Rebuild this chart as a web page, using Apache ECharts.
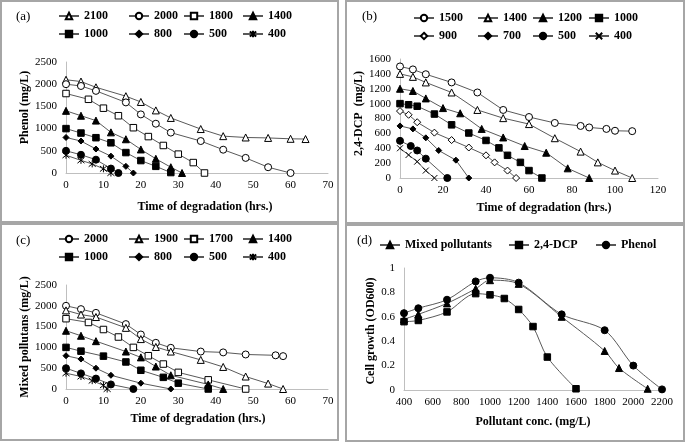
<!DOCTYPE html>
<html><head><meta charset="utf-8">
<script src="https://cdn.jsdelivr.net/npm/echarts@6/dist/echarts.min.js"></script>
<style>html,body{margin:0;padding:0;background:#fff}#c{width:685px;height:444px}</style>
</head><body><div id="c"></div>
<script>
const FONT = 'Liberation Serif';

// ---------- (a) Phenol: [time (hrs), concentration (mg/L)] ----------
const a2100 = [[0,2100],[4,2060],[8,1930],[16,1730],[20,1600],[24,1410],[28,1240],[36,990],[42,830],[48,800],[54,790],[60,770],[64,765]];
const a2000 = [[0,2000],[4,1960],[8,1850],[16,1590],[20,1320],[24,1110],[28,910],[36,720],[42,525],[48,340],[54,130],[60,0]];
const a1800 = [[0,1790],[6,1660],[10,1460],[14,1290],[18,1020],[22,820],[26,620],[30,425],[34,235],[37,0]];
const a1400 = [[0,1400],[4,1290],[8,1180],[12,915],[16,760],[20,530],[24,320],[28,130],[31,0]];
const a1000 = [[0,1000],[4,900],[8,795],[12,680],[16,460],[20,280],[24,150],[28,10]];
const a800  = [[0,800],[4,720],[8,540],[12,380],[16,150],[18,0]];
const a500  = [[0,500],[4,410],[8,300],[12,100],[14,0]];
const a400  = [[0,400],[4,285],[7,205],[10,95],[12,0]];

// ---------- (b) 2,4-DCP ----------
const b1500 = [[0,1500],[6,1460],[12,1395],[24,1285],[36,1150],[48,915],[60,820],[72,740],[84,700],[88,680],[96,660],[100,635],[108,630]];
const b1400 = [[0,1400],[6,1360],[12,1285],[24,1150],[36,915],[48,805],[60,725],[72,535],[84,355],[92,210],[100,100],[108,0]];
const b1200 = [[0,1200],[6,1170],[12,1070],[20,940],[28,870],[38,660],[48,545],[58,430],[68,340],[78,130],[88,0]];
const b1000 = [[0,1000],[4,985],[8,965],[16,860],[24,715],[32,605],[40,505],[46,405],[50,305],[56,210],[60,100],[66,0]];
const b900  = [[0,900],[4,850],[8,750],[16,610],[24,510],[32,410],[40,305],[44,210],[50,100],[54,0]];
const b700  = [[0,700],[6,660],[12,540],[18,370],[26,240],[32,0]];
const b500  = [[0,500],[5,430],[8,370],[12,260],[22,0]];
const b400  = [[0,400],[4,310],[8,220],[12,100],[16,0]];

// ---------- (c) Mixed pollutants ----------
const c2000 = [[0,2000],[4,1920],[8,1830],[16,1560],[20,1310],[24,1110],[28,990],[36,900],[42,880],[48,830],[56,810],[58,790]];
const c1900 = [[0,1890],[4,1790],[8,1730],[16,1470],[20,1200],[24,1010],[28,900],[36,700],[42,530],[48,300],[54,130],[58,0]];
const c1700 = [[0,1690],[6,1600],[10,1430],[14,1250],[18,1000],[22,800],[26,600],[30,400],[38,220],[48,0]];
const c1400 = [[0,1400],[4,1280],[8,1150],[16,900],[20,760],[24,540],[28,330],[38,110],[42,0]];
const c1000 = [[0,1000],[4,910],[10,790],[16,650],[20,450],[26,280],[30,140],[38,0]];
const c800  = [[0,800],[4,720],[8,500],[12,330],[20,140],[28,0]];
const c500  = [[0,500],[4,375],[8,250],[12,110],[18,0]];
const c400  = [[0,380],[4,300],[7,200],[10,90],[11,0]];

// ---------- (d) Cell growth (OD600) vs pollutant conc. (mg/L) ----------
const dMixed  = [[400,0.58],[500,0.62],[700,0.71],[900,0.83],[1000,0.90],[1200,0.87],[1500,0.60],[1800,0.32],[1900,0.18],[2100,0.01]];
const dDCP    = [[400,0.56],[500,0.57],[700,0.64],[900,0.79],[1000,0.78],[1100,0.75],[1200,0.66],[1300,0.52],[1400,0.27],[1600,0.01]];
const dPhenol = [[400,0.63],[500,0.67],[700,0.74],[900,0.89],[1000,0.92],[1200,0.88],[1500,0.62],[1800,0.49],[2000,0.20],[2200,0.005]];

// ---------- tick settings ----------
const timeTicksA = {min:0, max:70, interval:10};
const timeTicksB = {min:0, max:120, interval:20};
const concTicksA = {min:0, max:2500, interval:500};
const concTicksB = {min:0, max:1600, interval:200};
const concTicksD = {min:400, max:2200, interval:200};
const odTicksD   = {min:0, max:1, interval:0.2};

// ---------- styling helpers ----------
const ASTER = 'path://M5,0L5,10M1,1L9,9M1,9L9,1';
const CROSS = 'path://M0,0L10,10M0,10L10,0';
const SYM = {
  oTri:{symbol:'triangle', fill:'#fff', size:7},
  oCir:{symbol:'circle', fill:'#fff', size:7},
  oSq:{symbol:'rect', fill:'#fff', size:6.5},
  oDia:{symbol:'diamond', fill:'#fff', size:7},
  fTri:{symbol:'triangle', fill:'#000', size:7},
  fSq:{symbol:'rect', fill:'#000', size:6.5},
  fDia:{symbol:'diamond', fill:'#000', size:6},
  fCir:{symbol:'circle', fill:'#000', size:7},
  ast:{symbol:ASTER, fill:'#000', size:7},
  crs:{symbol:CROSS, fill:'#000', size:6}
};
function ser(name, data, gi, sk, smooth) {
  const s = SYM[sk];
  return {
    type:'line', name, data, xAxisIndex:gi, yAxisIndex:gi,
    symbol:s.symbol, symbolSize:s.size, showSymbol:true, smooth: smooth || false,
    lineStyle:{color:'#595959', width:1},
    itemStyle:{color:s.fill, borderColor:'#000', borderWidth:1},
    emphasis:{disabled:true}, animation:false, z: 3
  };
}
const plain = v => String(v);
const lblStyle = {fontFamily:FONT, fontSize:11, color:'#000', formatter:plain};
const nameStyle = (pad) => ({fontFamily:FONT, fontSize:12, fontWeight:'bold', color:'#000', padding:pad});
function xAx(gi, t, name, gap, pad) {
  return Object.assign({type:'value', gridIndex:gi, name, nameLocation:'middle', nameGap:gap,
    nameTextStyle:nameStyle(pad),
    axisLine:{show:true, lineStyle:{color:'#bfbfbf', width:1}}, axisTick:{show:false},
    splitLine:{show:false}, axisLabel:Object.assign({margin:7}, lblStyle)}, t);
}
function yAx(gi, t, name, gap, pad) {
  return Object.assign({type:'value', gridIndex:gi, name, nameLocation:'middle', nameGap:gap, nameRotate:90,
    nameTextStyle:nameStyle(pad),
    axisLine:{show:true, lineStyle:{color:'#bfbfbf', width:1}}, axisTick:{show:false},
    splitLine:{show:false}, axisLabel:Object.assign({margin:9}, lblStyle)}, t);
}
function leg(left, top, names, orient) {
  return {left, top, orient: orient || 'vertical', data:names, itemWidth:20, itemHeight:8, itemGap:6, padding:0,
    selectedMode:false, formatter: n => n.split('|')[1],
    textStyle:{fontFamily:FONT, fontSize:12, fontWeight:'bold', color:'#000'}};
}
function txt(left, top, t) {
  return {type:'text', left, top, style:{text:t, font:'13px "Liberation Serif"', fill:'#000'}};
}
function box(x, y, w, h) {
  return {type:'rect', shape:{x, y, width:w, height:h}, style:{fill:'none', stroke:'#a6a6a6', lineWidth:2}, z:-1};
}

const series = [
  ser('a|2100', a2100, 0, 'oTri'), ser('a|2000', a2000, 0, 'oCir'), ser('a|1800', a1800, 0, 'oSq'), ser('a|1400', a1400, 0, 'fTri'),
  ser('a|1000', a1000, 0, 'fSq'), ser('a|800', a800, 0, 'fDia'), ser('a|500', a500, 0, 'fCir'), ser('a|400', a400, 0, 'ast'),
  ser('b|1500', b1500, 1, 'oCir'), ser('b|1400', b1400, 1, 'oTri'), ser('b|1200', b1200, 1, 'fTri'), ser('b|1000', b1000, 1, 'fSq'),
  ser('b|900', b900, 1, 'oDia'), ser('b|700', b700, 1, 'fDia'), ser('b|500', b500, 1, 'fCir'), ser('b|400', b400, 1, 'crs'),
  ser('c|2000', c2000, 2, 'oCir'), ser('c|1900', c1900, 2, 'oTri'), ser('c|1700', c1700, 2, 'oSq'), ser('c|1400', c1400, 2, 'fTri'),
  ser('c|1000', c1000, 2, 'fSq'), ser('c|800', c800, 2, 'fDia'), ser('c|500', c500, 2, 'fCir'), ser('c|400', c400, 2, 'ast'),
  ser('d|Mixed pollutants', dMixed, 3, 'fTri', 0.3), ser('d|2,4-DCP', dDCP, 3, 'fSq', 0.3), ser('d|Phenol', dPhenol, 3, 'fCir', 0.3)
];

const option = {
  animation:false,
  backgroundColor:'#fff',
  grid:[
    {left:66, top:62, width:262, height:111},
    {left:400, top:59, width:258, height:119},
    {left:66, top:285, width:262, height:104},
    {left:404, top:268, width:258, height:122}
  ],
  xAxis:[
    xAx(0, timeTicksA, 'Time of degradation (hrs.)', 28, [0,0,0,16]),
    xAx(1, timeTicksB, 'Time of degradation (hrs.)', 24, [0,0,0,30]),
    xAx(2, timeTicksA, 'Time of degradation (hrs.)', 24, [0,0,0,2]),
    xAx(3, concTicksD, 'Pollutant conc. (mg/L)', 26, [0,0,0,0])
  ],
  yAxis:[
    yAx(0, concTicksA, 'Phenol (mg/L)', 30, [0,0,0,20]),
    yAx(1, concTicksB, '2,4-DCP  (mg/L)', 30, [0,0,0,10]),
    yAx(2, concTicksA, 'Mixed pollutans (mg/L)', 30, [0,0,0,0]),
    yAx(3, odTicksD, 'Cell growth (OD600)', 25, [0,4,0,0])
  ],
  legend:[
    leg(58, 10, ['a|2100','a|1000']), leg(128, 10, ['a|2000','a|800']), leg(183, 10, ['a|1800','a|500']), leg(242, 10, ['a|1400','a|400']),
    leg(413, 12, ['b|1500','b|900']), leg(477, 12, ['b|1400','b|700']), leg(532, 12, ['b|1200','b|500']), leg(588, 12, ['b|1000','b|400']),
    leg(58, 233, ['c|2000','c|1000']), leg(128, 233, ['c|1900','c|800']), leg(183, 233, ['c|1700','c|500']), leg(242, 233, ['c|1400','c|400']),
    leg(379, 239, ['d|Mixed pollutants'], 'horizontal'), leg(508, 239, ['d|2,4-DCP'], 'horizontal'), leg(595, 239, ['d|Phenol'], 'horizontal')
  ],
  graphic:[
    box(1, 1, 337, 221), box(346, 1, 338, 222), box(1, 224, 337, 216), box(346, 225, 338, 216),
    txt(16, 10, '(a)'), txt(362, 10, '(b)'), txt(16, 234, '(c)'), txt(357, 234, '(d)')
  ],
  series
};
const chart = echarts.init(document.getElementById('c'), null, {renderer:'canvas'});
chart.setOption(option);
</script>
</body></html>
